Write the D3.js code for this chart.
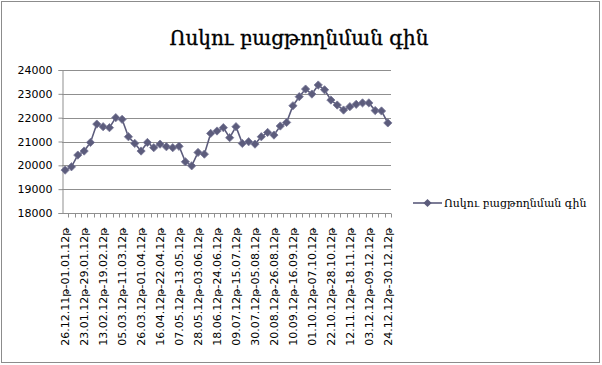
<!DOCTYPE html>
<html>
<head>
<meta charset="utf-8">
<style>
  body { margin: 0; background: white; }
  svg { display: block; }
</style>
<script src="https://cdn.jsdelivr.net/npm/d3@7"></script>
</head>
<body>
<svg id="chart" width="602" height="365"></svg>
<script>
// chart title and series name
let title = "Ոսկու բացթողնման գին"
let seriesName = "Ոսկու բացթողնման գին"

// weekly periods (categories)
let weeks = [
  "26.12.11թ-01.01.12թ", "09.01.12թ-15.01.12թ", "16.01.12թ-22.01.12թ", "23.01.12թ-29.01.12թ",
  "30.01.12թ-05.02.12թ", "06.02.12թ-12.02.12թ", "13.02.12թ-19.02.12թ", "20.02.12թ-26.02.12թ",
  "27.02.12թ-04.03.12թ", "05.03.12թ-11.03.12թ", "12.03.12թ-18.03.12թ", "19.03.12թ-25.03.12թ",
  "26.03.12թ-01.04.12թ", "02.04.12թ-08.04.12թ", "09.04.12թ-15.04.12թ", "16.04.12թ-22.04.12թ",
  "23.04.12թ-29.04.12թ", "30.04.12թ-06.05.12թ", "07.05.12թ-13.05.12թ", "14.05.12թ-20.05.12թ",
  "21.05.12թ-27.05.12թ", "28.05.12թ-03.06.12թ", "04.06.12թ-10.06.12թ", "11.06.12թ-17.06.12թ",
  "18.06.12թ-24.06.12թ", "25.06.12թ-01.07.12թ", "02.07.12թ-08.07.12թ", "09.07.12թ-15.07.12թ",
  "16.07.12թ-22.07.12թ", "23.07.12թ-29.07.12թ", "30.07.12թ-05.08.12թ", "06.08.12թ-12.08.12թ",
  "13.08.12թ-19.08.12թ", "20.08.12թ-26.08.12թ", "27.08.12թ-02.09.12թ", "03.09.12թ-09.09.12թ",
  "10.09.12թ-16.09.12թ", "17.09.12թ-23.09.12թ", "24.09.12թ-30.09.12թ", "01.10.12թ-07.10.12թ",
  "08.10.12թ-14.10.12թ", "15.10.12թ-21.10.12թ", "22.10.12թ-28.10.12թ", "29.10.12թ-04.11.12թ",
  "05.11.12թ-11.11.12թ", "12.11.12թ-18.11.12թ", "19.11.12թ-25.11.12թ", "26.11.12թ-02.12.12թ",
  "03.12.12թ-09.12.12թ", "10.12.12թ-16.12.12թ", "17.12.12թ-23.12.12թ", "24.12.12թ-30.12.12թ"
]

// price per week
let prices = [
  19800, 19940, 20430, 20600, 20960, 21730, 21620, 21580, 22000, 21930,
  21200, 20920, 20600, 20960, 20740, 20890, 20780, 20740, 20800, 20150,
  19980, 20540, 20470, 21340, 21440, 21580, 21160, 21620, 20920, 20990,
  20890, 21200, 21380, 21270, 21650, 21800, 22500, 22880, 23200, 22990,
  23370, 23170, 22740, 22530, 22320, 22460, 22560, 22620, 22620, 22300,
  22280, 21780
]

let yTicks = [18000, 19000, 20000, 21000, 22000, 23000, 24000]

let svg = d3.select("#chart")
let color = "#5c5c7c"

// outer border
svg.append("rect")
  .attr("x", 1.5).attr("y", 1.5)
  .attr("width", 598).attr("height", 361)
  .attr("fill", "white")
  .attr("stroke", "#8c8c8c")

svg.append("text")
  .attr("x", 299).attr("y", 45)
  .attr("text-anchor", "middle")
  .attr("font-family", "DejaVu Serif, serif")
  .attr("font-size", 20)
  .attr("fill", "#000")
  .attr("stroke", "#000")
  .attr("stroke-width", 0.35)
  .text(title)

let plotLeft = 62, plotRight = 391, plotTop = 70, plotBottom = 213

let x = d3.scaleBand().domain(weeks).range([plotLeft, plotRight])
let y = d3.scaleLinear().domain([18000, 24000]).range([plotBottom, plotTop])

// gridlines
svg.append("g").selectAll("line").data(yTicks.slice(1))
  .enter().append("line")
  .attr("x1", plotLeft).attr("x2", plotRight)
  .attr("y1", d => Math.round(y(d)) + 0.5)
  .attr("y2", d => Math.round(y(d)) + 0.5)
  .attr("stroke", "#8f8f8f")

// y axis
let yAxis = svg.append("g")
  .attr("transform", `translate(${plotLeft + 0.5},0)`)
  .call(d3.axisLeft(y).tickValues(yTicks).tickSize(4).tickPadding(6).tickFormat(d3.format("d")))
yAxis.select(".domain").attr("stroke", "#8f8f8f")
yAxis.selectAll(".tick line").attr("stroke", "#8f8f8f")
yAxis.selectAll("text")
  .attr("font-family", "DejaVu Sans, sans-serif")
  .attr("font-size", 11)
  .attr("fill", "#000")

// x axis: ticks at category boundaries
let xg = svg.append("g").attr("transform", `translate(0,${plotBottom + 0.5})`)
xg.append("line")
  .attr("x1", plotLeft).attr("x2", plotRight)
  .attr("stroke", "#8f8f8f")
xg.selectAll(".bt").data(weeks)
  .enter().append("line")
  .attr("class", "bt")
  .attr("x1", d => Math.round(x(d) + x.bandwidth()) + 0.5)
  .attr("x2", d => Math.round(x(d) + x.bandwidth()) + 0.5)
  .attr("y1", 0).attr("y2", 4)
  .attr("stroke", "#8f8f8f")

xg.selectAll(".lbl").data(weeks.filter((d, i) => i % 3 === 0))
  .enter().append("text")
  .attr("class", "lbl")
  .attr("transform", d => `translate(${x(d) + x.bandwidth() / 2 + 4},14) rotate(-90)`)
  .attr("text-anchor", "end")
  .attr("font-family", "DejaVu Sans, sans-serif")
  .attr("font-size", 11)
  .attr("fill", "#000")
  .text(d => d)

// series line
let line = d3.line()
  .x((d, i) => x(weeks[i]) + x.bandwidth() / 2)
  .y(d => y(d))

svg.append("path")
  .datum(prices)
  .attr("d", line)
  .attr("fill", "none")
  .attr("stroke", color)
  .attr("stroke-width", 1.6)

let diamond = d3.symbol().type(d3.symbolSquare).size(34)

svg.append("g").selectAll("path").data(prices)
  .enter().append("path")
  .attr("d", diamond)
  .attr("transform", (d, i) => `translate(${x(weeks[i]) + x.bandwidth() / 2},${y(d)}) rotate(45)`)
  .attr("fill", color)
  .attr("stroke", "#7a7a98")
  .attr("stroke-width", 0.8)

// legend
let lg = svg.append("g").attr("transform", "translate(413,203)")
lg.append("line")
  .attr("x1", 0).attr("x2", 29)
  .attr("stroke", color).attr("stroke-width", 1.6)
lg.append("path")
  .attr("d", diamond)
  .attr("transform", "translate(14.5,0) rotate(45)")
  .attr("fill", color)
lg.append("text")
  .attr("x", 31).attr("y", 4)
  .attr("font-family", "DejaVu Serif, serif")
  .attr("font-size", 11)
  .attr("fill", "#000")
  .text(seriesName)
</script>
</body>
</html>
